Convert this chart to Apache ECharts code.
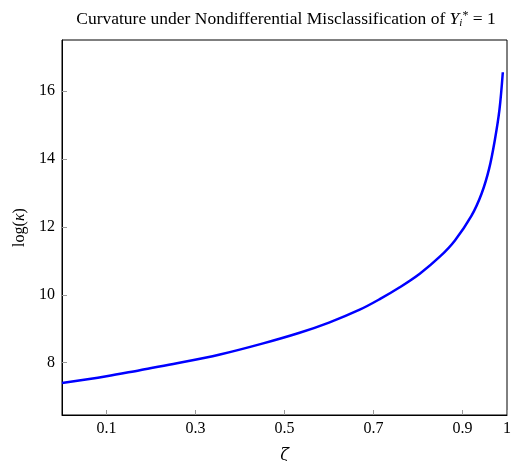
<!DOCTYPE html>
<html>
<head>
<meta charset="utf-8">
<script src="https://cdn.jsdelivr.net/npm/echarts@6/dist/echarts.min.js"></script>
<style>
  html, body { margin: 0; padding: 0; background: #fff; }
  #chart { width: 514px; height: 461px; }
</style>
</head>
<body>
<div id="chart"></div>
<script>
// values
const zeta = [0, 0.1, 0.175, 0.25, 0.355, 0.45, 0.534, 0.6, 0.669, 0.714, 0.759, 0.804, 0.849, 0.883, 0.92, 0.943, 0.96, 0.9726, 0.983, 0.9906];
const logKappa = [7.40, 7.60, 7.78, 7.96, 8.24, 8.56, 8.88, 9.18, 9.56, 9.87, 10.22, 10.62, 11.12, 11.60, 12.32, 12.98, 13.72, 14.55, 15.44, 16.55];
const xTicks = [0.1, 0.3, 0.5, 0.7, 0.9, 1];
const yTicks = [8, 10, 12, 14, 16];

const serif = "Liberation Serif";
const myChart = echarts.init(document.getElementById("chart"));

const option = {
  animation: false,
  title: {
    text: "{n|Curvature under Nondifferential Misclassification of }{it|Y}{sub|i}{sup|*}{n| = 1}",
    left: 281,
    top: 5,
    textAlign: "center",
    textStyle: {
      fontWeight: "normal",
      rich: {
        n: { fontFamily: serif, fontSize: 17.5, fontWeight: "normal", color: "#000" },
        it: { fontFamily: serif, fontSize: 17.5, fontWeight: "normal", fontStyle: "italic", color: "#000" },
        sub: { fontFamily: serif, fontSize: 11, fontWeight: "normal", fontStyle: "italic", color: "#000", verticalAlign: "bottom", padding: [7, 0, 0, 0] },
        sup: { fontFamily: serif, fontSize: 12, fontWeight: "normal", color: "#000", verticalAlign: "top", padding: [0, 0, 7, 0] },
      },
    },
  },
  grid: {
    left: 62,
    right: 7,
    top: 40,
    bottom: 46,
    outerBoundsMode: "none",
    containLabel: false,
    show: true,
    borderColor: "#000",
    borderWidth: 1,
  },
  xAxis: {
    type: "value",
    min: 0,
    max: 1,
    name: "ζ",
    nameLocation: "middle",
    nameGap: 33,
    nameTextStyle: { fontFamily: "DejaVu Serif", fontSize: 16, fontStyle: "italic", color: "#000" },
    splitLine: { show: false },
    axisLine: { show: true, lineStyle: { color: "#000", width: 1 } },
    axisTick: { show: true, inside: true, length: 5, customValues: xTicks, lineStyle: { color: "#999" } },
    axisLabel: {
      customValues: xTicks,
      fontFamily: serif,
      fontSize: 16,
      color: "#000",
      margin: 6,
    },
  },
  yAxis: {
    type: "value",
    min: 6.46,
    max: 17.5,
    name: "{n|log(}{it|κ}{n|)}",
    nameLocation: "middle",
    nameGap: 30,
    nameRotate: 90,
    nameTextStyle: {
      rich: {
        n: { fontFamily: serif, fontSize: 16, color: "#000" },
        it: { fontFamily: serif, fontSize: 16, fontStyle: "italic", color: "#000" },
      },
    },
    splitLine: { show: false },
    axisLine: { show: true, lineStyle: { color: "#000", width: 1 } },
    axisTick: { show: true, inside: true, length: 5, customValues: yTicks, lineStyle: { color: "#999" } },
    axisLabel: {
      customValues: yTicks,
      fontFamily: serif,
      fontSize: 16,
      color: "#000",
      margin: 7,
    },
  },
  series: [
    {
      type: "line",
      data: zeta.map((z, i) => [z, logKappa[i]]),
      smooth: 0.35,
      showSymbol: false,
      clip: true,
      lineStyle: { color: "#0000ff", width: 2.5 },
    },
  ],
};

myChart.setOption(option);
</script>
</body>
</html>
